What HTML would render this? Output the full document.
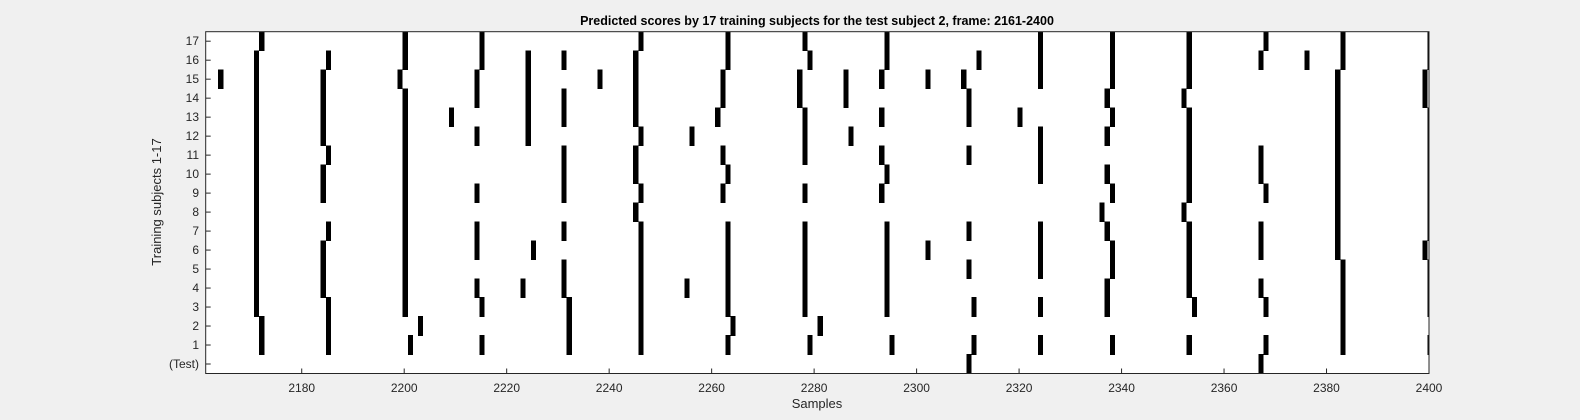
<!DOCTYPE html>
<html><head><meta charset="utf-8"><style>
html,body{margin:0;padding:0;background:#f0f0f0;}
svg{display:block;font-family:"Liberation Sans",Arial,sans-serif;}
</style></head><body>
<svg id="chart" width="1580" height="420" viewBox="0 0 1580 420" xmlns="http://www.w3.org/2000/svg">
<rect x="0" y="0" width="1580" height="420" fill="#f0f0f0"/>
<rect x="205.7" y="31.7" width="1223.3" height="341.8" fill="#ffffff"/>
<g id="cells" shape-rendering="crispEdges"></g>
<g id="ticks"></g>
<rect x="205.7" y="31.7" width="1223.3" height="341.8" fill="none" stroke="#262626" stroke-width="1"/>
<text x="817" y="25" text-anchor="middle" font-size="12.5" font-weight="bold" fill="#000">Predicted scores by 17 training subjects for the test subject 2, frame: 2161-2400</text>
<text x="817" y="408" text-anchor="middle" font-size="13" fill="#262626">Samples</text>
<text transform="translate(161,202) rotate(-90)" text-anchor="middle" font-size="13" fill="#262626">Training subjects 1-17</text>
</svg>
<script>
const rowLabels = ["(Test)","1","2","3","4","5","6","7","8","9","10","11","12","13","14","15","16","17"];
const xTicks = [2180,2200,2220,2240,2260,2280,2300,2320,2340,2360,2380,2400];
const row0 = [2310,2367];
const row1 = [2172,2185,2201,2215,2232,2246,2263,2279,2295,2311,2324,2338,2353,2368,2383,2400];
const row2 = [2172,2185,2203,2232,2246,2264,2281,2383];
const row3 = [2171,2185,2200,2215,2232,2246,2263,2278,2294,2311,2324,2337,2354,2368,2383,2400];
const row4 = [2171,2184,2200,2214,2223,2231,2246,2255,2263,2278,2294,2337,2353,2367,2383,2400];
const row5 = [2171,2184,2200,2231,2246,2263,2278,2294,2310,2324,2338,2353,2383,2400];
const row6 = [2171,2184,2200,2214,2225,2246,2263,2278,2294,2302,2324,2338,2353,2367,2382,2399];
const row7 = [2171,2185,2200,2214,2231,2246,2263,2278,2294,2310,2324,2337,2353,2367,2382,2400];
const row8 = [2171,2200,2245,2336,2352,2382,2400];
const row9 = [2171,2184,2200,2214,2231,2246,2262,2278,2293,2338,2353,2368,2382,2400];
const row10 = [2171,2184,2200,2231,2245,2263,2294,2324,2337,2353,2367,2382,2400];
const row11 = [2171,2185,2200,2231,2245,2262,2278,2293,2310,2324,2353,2367,2382,2400];
const row12 = [2171,2184,2200,2214,2224,2246,2256,2278,2287,2324,2337,2353,2382,2400];
const row13 = [2171,2184,2200,2209,2224,2231,2245,2261,2278,2293,2310,2320,2338,2353,2382,2400];
const row14 = [2171,2184,2200,2214,2224,2231,2245,2262,2277,2286,2310,2337,2352,2382,2399];
const row15 = [2164,2171,2184,2199,2214,2224,2238,2245,2262,2277,2286,2293,2302,2309,2324,2338,2353,2382,2399];
const row16 = [2171,2185,2200,2215,2224,2231,2245,2263,2279,2294,2312,2324,2338,2353,2367,2376,2383,2400];
const row17 = [2172,2200,2215,2246,2263,2278,2294,2324,2338,2353,2368,2383,2400];
const rows = [row0,row1,row2,row3,row4,row5,row6,row7,row8,row9,row10,row11,row12,row13,row14,row15,row16,row17];

const NS = "http://www.w3.org/2000/svg";
const L = 205.7, R = 1429, T = 31.7, B = 373.5;
const pxPer = 5.124;
function xScale(s){ return R - (2400 - s) * pxPer; }
const rowH = (B - T) / rowLabels.length;
function yTop(r){ return B - (r + 1) * rowH; }

const cells = document.getElementById('cells');
rows.forEach(function(list, r){
  list.forEach(function(s){
    const x0 = Math.max(L, xScale(s - 0.3));
    const x1 = Math.min(R, xScale(s + 0.7));
    const el = document.createElementNS(NS, 'rect');
    el.setAttribute('x', x0.toFixed(2));
    el.setAttribute('y', (yTop(r) - 0.3).toFixed(2));
    el.setAttribute('width', (x1 - x0).toFixed(2));
    el.setAttribute('height', (rowH + 0.6).toFixed(2));
    el.setAttribute('fill', '#000');
    
    
    cells.appendChild(el);
  });
});

const ticks = document.getElementById('ticks');
xTicks.forEach(function(v){
  const x = xScale(v);
  const ln = document.createElementNS(NS, 'line');
  ln.setAttribute('x1', x); ln.setAttribute('x2', x);
  ln.setAttribute('y1', B); ln.setAttribute('y2', B - 5);
  ln.setAttribute('stroke', '#262626');
  
  
  ticks.appendChild(ln);
  const t = document.createElementNS(NS, 'text');
  t.setAttribute('x', x); t.setAttribute('y', 392);
  t.setAttribute('text-anchor', 'middle');
  t.setAttribute('font-size', '12');
  t.setAttribute('fill', '#262626');
  
  
  t.textContent = v;
  ticks.appendChild(t);
});
rowLabels.forEach(function(lab, r){
  const y = yTop(r) + rowH / 2;
  const ln = document.createElementNS(NS, 'line');
  ln.setAttribute('x1', L); ln.setAttribute('x2', L + 5);
  ln.setAttribute('y1', y); ln.setAttribute('y2', y);
  ln.setAttribute('stroke', '#262626');
  
  
  ticks.appendChild(ln);
  const t = document.createElementNS(NS, 'text');
  t.setAttribute('x', 199); t.setAttribute('y', y + 4);
  t.setAttribute('text-anchor', 'end');
  t.setAttribute('font-size', '12');
  t.setAttribute('fill', '#262626');
  
  
  t.textContent = lab;
  ticks.appendChild(t);
});
</script>
</body></html>
